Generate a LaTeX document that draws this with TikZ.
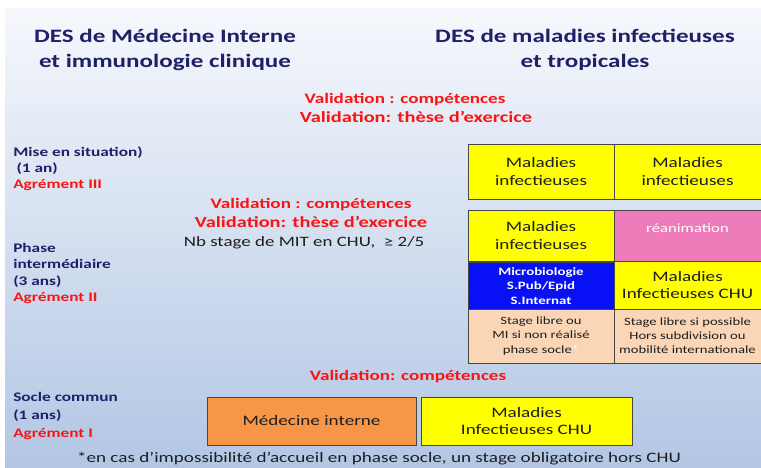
\documentclass[tikz,border=0pt]{standalone}
\usepackage{fontspec}
\setmainfont{Carlito}[FakeStretch=1.32]
\usepackage{tikz}

\definecolor{navy}{RGB}{30,32,105}
\definecolor{valred}{RGB}{250,20,20}
\definecolor{boxline}{RGB}{70,70,70}
\definecolor{boxtxt}{RGB}{30,30,30}
\definecolor{bgtop}{RGB}{246,248,252}
\definecolor{bgbot}{RGB}{178,198,228}
\definecolor{miyellow}{RGB}{255,255,0}
\definecolor{reapink}{RGB}{238,124,186}
\definecolor{microblue}{RGB}{8,16,245}
\definecolor{peach}{RGB}{251,214,182}
\definecolor{miorange}{RGB}{246,150,70}

\begin{document}
\begin{tikzpicture}[x=0.025cm,y=-0.025cm,
		box/.style={draw=boxline,line width=0.6pt,inner sep=0pt,outer sep=0pt,align=center,text=boxtxt,
			font=\fontsize{10.3}{12.4}\selectfont},
		colA/.style={minimum width=3.65cm},
		colB/.style={minimum width=3.675cm},
		title/.style={align=center,text=navy,font=\fontsize{13.5}{17.7}\selectfont\bfseries},
		valid/.style={text=valred,font=\fontsize{10.3}{13.5}\selectfont\bfseries,align=center,inner sep=0pt},
		phase/.style={anchor=west,align=left,text=navy,inner sep=0pt,font=\fontsize{9.3}{11.4}\selectfont\bfseries}]

	\useasboundingbox (0,0) rectangle (761,467);
	\shade[top color=bgtop,bottom color=bgbot] (5,8) rectangle (761,467);

	% titres
	\node[title] (desmi) at (165,50) {DES de Médecine Interne\\et immunologie clinique};
	\node[title] (desmit) at (585,50) {DES de maladies infectieuses\\et tropicales};

	\node[valid] (valtopa) at (405,100) {Validation : compétences};
	\node[valid,font=\fontsize{11}{13}\selectfont\bfseries] (valtopb) at (416,117) {Validation: thèse d’exercice};

	% phases
	\node[phase] (mise) at (13,169) {Mise en situation)\\\hspace{0.25em}(1 an)\\{\color{valred}Agrément III}};
	\node[phase,font=\fontsize{9.3}{11.6}\selectfont\bfseries] (inter) at (13,273.5) {Phase\\intermédiaire\\(3 ans)\\{\color{valred}Agrément II}};
	\node[phase,font=\fontsize{9.3}{12.8}\selectfont\bfseries] (socle) at (13,416) {Socle commun\\(1 ans)\\{\color{valred}Agrément I}};

	\node[valid] (valmid) at (311,212.5) {Validation : compétences\\{\fontsize{11}{13}\selectfont Validation: thèse d’exercice}};
	\node[text=boxtxt,inner sep=0pt,font=\fontsize{10.2}{12}\selectfont] (nbstage) at (304,243) {Nb stage de MIT en CHU,~ ≥ 2/5};

	% mise en situation
	\node[box,colA,minimum height=1.375cm,fill=miyellow] (misea) at (541,171.5) {Maladies\\infectieuses};
	\node[box,colB,minimum height=1.375cm,fill=miyellow] (miseb) at (687.5,171.5) {Maladies\\infectieuses};

	% phase intermediaire
	\node[box,colA,minimum height=1.275cm,fill=miyellow] (intera) at (541,235.5) {Maladies\\infectieuses};
	\node[box,colB,minimum height=1.275cm,fill=reapink,
		label={[anchor=north,inner sep=0pt,yshift=-0.33cm,text=white,font=\fontsize{9}{9}\selectfont]north:réanimation}] (rea) at (687.5,235.5) {};
	\node[box,colA,minimum height=1.2cm,fill=microblue,text=white,font=\fontsize{8}{10.3}\selectfont\bfseries] (micro) at (541,286) {Microbiologie\\S.Pub/Epid\\S.Internat};
	\node[box,colB,minimum height=1.2cm,fill=miyellow] (interchu) at (687.5,285) {Maladies\\Infectieuses CHU};
	\node[box,colA,minimum height=1.35cm,fill=peach,font=\fontsize{7.9}{10}\selectfont] (librea) at (541,336) {Stage libre ou\\MI si non réalisé\\phase socle{\color{white}*}};
	\node[box,colB,minimum height=1.35cm,fill=peach,font=\fontsize{7.9}{10}\selectfont] (libreb) at (687.5,336) {Stage libre si possible\\Hors subdivision ou\\mobilité internationale};

	% socle commun
	\node[valid] (valbas) at (408,377) {Validation: compétences};
	\node[box,minimum width=5.225cm,minimum height=1.2cm,fill=miorange] (medint) at (311.5,421) {Médecine interne};
	\node[box,minimum width=5.275cm,minimum height=1.2cm,fill=miyellow] (socchu) at (526.5,421) {Maladies\\Infectieuses CHU};

	\node[text=boxtxt,inner sep=0pt,font=\fontsize{10.3}{12}\selectfont] (note) at (379,459) {*en cas d’impossibilité d’accueil en phase socle, un stage obligatoire hors CHU};
\end{tikzpicture}
\end{document}
